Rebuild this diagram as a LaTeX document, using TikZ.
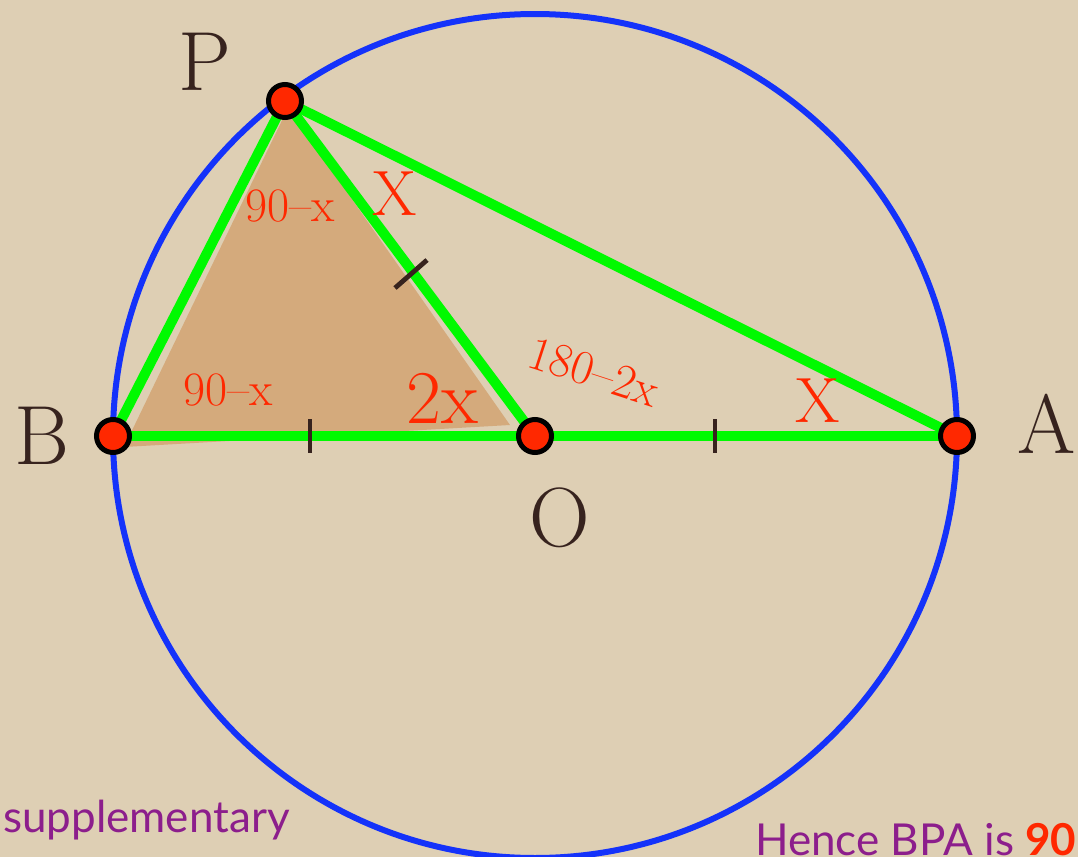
\documentclass[tikz,border=0pt]{standalone}
\usepackage{fontspec}
\newfontfamily\captionfont{Lato}
\definecolor{parchment}{RGB}{222,207,180}
\definecolor{tanfill}{RGB}{212,170,124}
\definecolor{ringblue}{RGB}{20,50,250}
\definecolor{sidegreen}{RGB}{0,250,0}
\definecolor{markred}{RGB}{255,40,0}
\definecolor{inkbrown}{RGB}{55,35,30}
\definecolor{notepurple}{RGB}{140,30,140}
\tikzset{
  side/.style={sidegreen, line width=5pt, line cap=round},
  tick/.style={inkbrown, line width=2.4pt},
  dot/.style={circle, fill=markred, draw=black, line width=2.5pt, minimum size=16.5pt, inner sep=0pt},
  letter/.style={inkbrown, font=\fontsize{42}{46}\selectfont},
  anglelbl/.style={markred, font=\fontsize{24}{26}\selectfont},
  biglbl/.style={markred, font=\fontsize{32}{34}\selectfont},
  note/.style={notepurple, font=\captionfont\fontsize{22}{26}\selectfont}
}
\begin{document}
\begin{tikzpicture}[x=0.5pt, y=-0.5pt]
    \fill[parchment] (0,0) rectangle (1078,857);
    \useasboundingbox (0,0) rectangle (1078,857);
    \clip (0,0) rectangle (1078,857);
    % points of the figure
    \coordinate (O) at (535,436);
    \coordinate (B) at (113,436);
    \coordinate (A) at (957,436);
    \coordinate (P) at (285,101);
    % shaded isosceles triangle
    \fill[tanfill] (288,108) -- (124,447) -- (510,425) -- cycle;
    \draw[ringblue, line width=3pt] (O) circle [radius=422];
    \draw[side] (B) -- (A);
    \draw[side] (B) -- (P) -- (A);
    \draw[side] (P) -- (O);
    % equal radii
    \draw[tick] (310,419) -- (310,453);
    \draw[tick] (715,419) -- (715,453);
    \draw[tick] (395,288) -- (427,260);
    \foreach \p in {O,B,A,P}
        \node[dot] at (\p) {};
    \node[letter] (lP) at (205,62) {P};
    \node[letter] (lB) at (42,436) {B};
    \node[letter] (lA) at (1047,424) {A};
    \node[letter] (lO) at (560,518) {O};
    \node[anglelbl] (aP) at (290,206) {90--x};
    \node[anglelbl] (aB) at (228,390) {90--x};
    \node[anglelbl, rotate=-18] (aO) at (594,372) {180--2x};
    \node[biglbl] (xP) at (395,194) {X};
    \node[biglbl] (xA) at (818,401) {X};
    \node[biglbl, font=\fontsize{38}{40}\selectfont] (twox) at (442,398) {2x};
    \node[note, anchor=base west] (sup) at (-4,832) {supplementary};
    \node[note, anchor=base west] (hence) at (748,855) {Hence BPA is \textcolor{markred}{\bfseries 90}};
\end{tikzpicture}
\end{document}
